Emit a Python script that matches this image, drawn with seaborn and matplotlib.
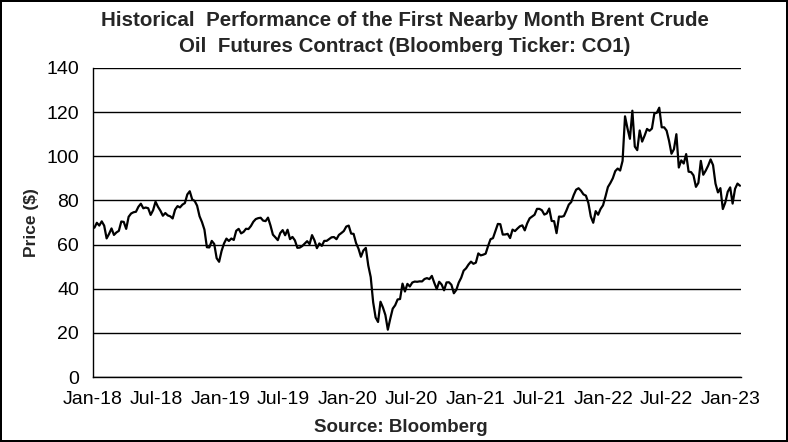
import pandas as pd
import matplotlib.pyplot as plt
import matplotlib.dates as mdates
import seaborn as sns

# Weekly (Friday) front-month Brent settlement
prices_2018 = [67.62, 69.87, 68.61, 70.52, 68.58, 62.79, 64.84, 67.31, 64.37, 65.49,
               66.21, 70.45, 70.27, 67.11, 72.58, 74.06, 74.64, 74.87, 77.12, 78.51,
               76.44, 76.79, 76.46, 73.44, 75.55, 79.44, 77.11, 75.33, 73.07, 74.29,
               73.21, 72.81, 71.83, 75.82, 77.42, 76.83, 78.09, 78.80, 82.72, 84.16,
               80.43, 79.78, 77.62, 72.83, 70.18, 66.76, 58.80, 58.71, 61.67, 60.28,
               53.82, 52.20]
prices_2019 = [57.06, 60.48, 62.70, 61.64, 62.75, 62.10, 66.25, 67.12, 65.07, 65.74,
               67.16, 67.03, 68.39, 70.34, 71.55, 71.97, 72.15, 70.85, 70.62, 72.21,
               68.69, 64.49, 63.29, 62.01, 65.20, 66.55, 64.23, 66.72, 62.47, 63.46,
               61.89, 58.53, 58.64, 59.34, 60.43, 61.54, 60.22, 64.28, 61.91, 58.37,
               60.51, 59.42, 61.67, 61.69, 62.51, 63.30, 63.39, 62.43, 64.39, 65.22,
               66.14, 68.16]
prices_2020 = [68.60, 64.98, 64.85, 60.69, 58.16, 54.47, 57.32, 58.50, 50.52, 45.27,
               33.85, 26.98, 24.93, 34.11, 31.48, 28.08, 21.44, 26.44, 30.97, 32.50,
               35.13, 35.33, 42.30, 38.73, 42.19, 41.02, 42.80, 43.24, 43.14, 43.34,
               43.30, 44.40, 44.80, 44.35, 45.81, 42.66, 39.83, 43.15, 41.92, 39.27,
               42.85, 42.93, 41.77, 37.94, 39.45, 42.78, 44.96, 48.18, 49.25, 50.97,
               52.26, 51.29, 51.80]
prices_2021 = [55.99, 55.10, 55.41, 55.88, 59.34, 62.43, 62.91, 66.13, 69.36, 69.22,
               64.53, 64.57, 64.86, 62.95, 66.77, 66.11, 67.25, 68.28, 68.71, 66.44,
               69.63, 71.89, 72.69, 73.51, 76.18, 76.17, 75.55, 73.59, 74.10, 76.33,
               70.70, 70.59, 65.18, 72.70, 72.61, 72.92, 75.34, 78.09, 79.28, 82.39,
               84.86, 85.53, 84.38, 82.74, 82.17, 78.89, 72.72, 69.88, 75.15, 73.52,
               76.14, 77.78]
prices_2022 = [81.75, 86.06, 87.89, 90.03, 93.27, 94.44, 93.54, 97.93, 118.11, 112.67,
               107.93, 120.65, 104.39, 102.78, 111.70, 106.65, 109.34, 112.39, 111.55, 112.55,
               119.43, 119.72, 122.01, 113.12, 113.12, 111.63, 107.02, 101.16, 103.20, 110.01,
               94.92, 98.15, 96.72, 100.99, 93.02, 92.84, 91.35, 86.15, 87.96, 97.92,
               91.63, 93.50, 95.77, 98.57, 95.99, 87.62, 83.63, 85.57, 76.10, 79.04,
               83.92, 85.91]
prices_2023 = [78.57, 85.28, 87.63, 86.66]

prices = prices_2018 + prices_2019 + prices_2020 + prices_2021 + prices_2022 + prices_2023
dates = pd.date_range("2018-01-05", periods=len(prices), freq="W-FRI")
df = pd.DataFrame({"date": dates, "price": prices})

y_ticks = [0, 20, 40, 60, 80, 100, 120, 140]


def main():
    sns.set_style("white")
    plt.rcParams["font.family"] = ["Liberation Sans", "DejaVu Sans"]

    fig = plt.figure(figsize=(7.88, 4.42), dpi=100, facecolor="white",
                     edgecolor="black", linewidth=1.5)
    ax = fig.add_axes([93 / 788, 1 - 377 / 442, (741 - 93) / 788, (377 - 68) / 442])

    sns.lineplot(ax=ax, data=df, x="date", y="price", color="black", linewidth=1.6)

    ax.set_ylim(0, 140)
    ax.set_yticks(y_ticks)
    ax.set_xlim(pd.Timestamp("2018-01-01"), pd.Timestamp("2023-01-30"))
    ax.xaxis.set_major_locator(mdates.MonthLocator(bymonth=[1, 7]))
    ax.xaxis.set_major_formatter(mdates.DateFormatter("%b-%y"))

    # horizontal gridlines only
    ax.grid(axis="y", color="black", linewidth=1)
    ax.grid(axis="x", visible=False)
    ax.set_axisbelow(True)
    for side in ["top", "right"]:
        ax.spines[side].set_visible(False)
    for side in ["left", "bottom"]:
        ax.spines[side].set_color("black")
        ax.spines[side].set_linewidth(1)
    ax.tick_params(axis="both", direction="out", length=6, width=1, color="black",
                   labelsize=14, labelcolor="black", pad=4)

    ax.set_ylabel("Price ($)", fontsize=12.5, fontweight="bold", labelpad=5)
    ax.set_xlabel("")
    fig.text(401 / 788, 1 - 427 / 442, "Source: Bloomberg",
             ha="center", va="center", fontsize=13.5, fontweight="bold")

    fig.text(405 / 788, 1 - 20 / 442,
             "Historical  Performance of the First Nearby Month Brent Crude",
             ha="center", va="center", fontsize=14.8, fontweight="bold")
    fig.text(405 / 788, 1 - 46 / 442,
             "Oil  Futures Contract (Bloomberg Ticker: CO1)",
             ha="center", va="center", fontsize=14.8, fontweight="bold")

    plt.savefig("out.png", dpi=100, edgecolor=fig.get_edgecolor())
    plt.close()


if __name__ == "__main__":
    main()
